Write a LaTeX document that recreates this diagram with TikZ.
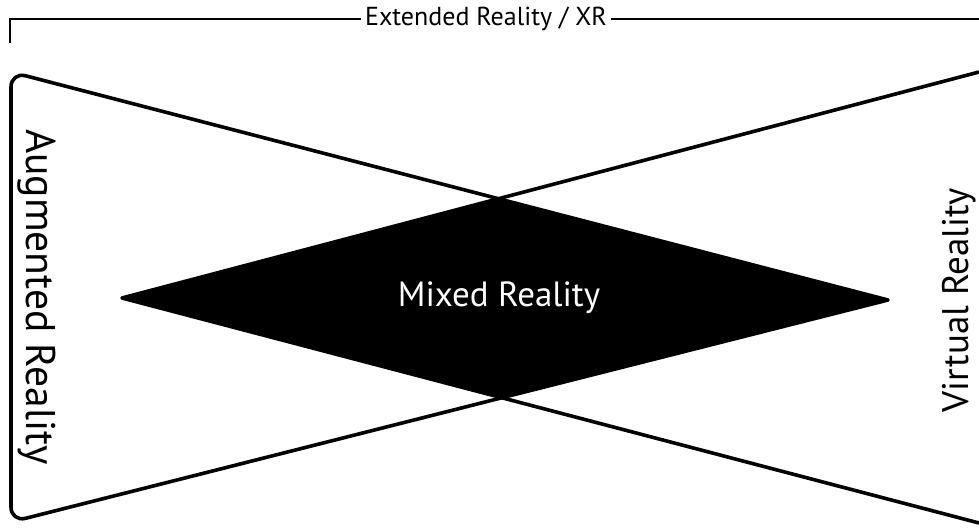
\documentclass[tikz,border=0pt]{standalone}
\usepackage{fontspec}
\setmainfont{PT Sans}
\begin{document}
\begin{tikzpicture}[x=1pt,y=-1pt,
  outline/.style={line width=3.6pt,line join=round},
  bracket/.style={line width=1.8pt},
  sidelabel/.style={inner sep=0pt,anchor=base},
  toplabel/.style={font=\fontsize{26}{31}\selectfont,inner sep=4pt,fill=white}]
\useasboundingbox (0,0) rectangle (979,527);
% corner points of the two overlapping wedges
\coordinate (A) at (11,72);
\coordinate (B) at (11,522);
\coordinate (R) at (888,300);
\coordinate (C) at (979,72);
\coordinate (D) at (979,523);
\coordinate (L) at (122,298);
% overlap of the two wedges
\begin{scope}
  \clip (R) -- (A) -- (B) -- cycle;
  \fill[black] (L) -- (C) -- (D) -- cycle;
\end{scope}
% left wedge with rounded outer corners
\draw[outline] (R) [rounded corners=15pt]-- (A) -- (B) [sharp corners]-- cycle;
% right wedge running off the page
\draw[outline] (C) -- (L) -- (D);
% top bracket
\node[toplabel] (xr) at (486,19) {Extended Reality / XR};
\coordinate (bl) at (10,43);
\coordinate (br) at (979,19);
\draw[bracket] (bl) |- (xr.west);
\draw[bracket] (xr.east) -- (br);
% labels
\node[sidelabel,rotate=-90,font=\fontsize{41.5}{47}\selectfont] (ar) at (27,297) {Augmented Reality};
\node[sidelabel,rotate=90,font=\fontsize{37}{43}\selectfont] (vr) at (968,300) {Virtual Reality};
\node[inner sep=0pt,text=white,font=\fontsize{35}{40}\selectfont] (mr) at (499,298) {Mixed Reality};
\end{tikzpicture}
\end{document}
